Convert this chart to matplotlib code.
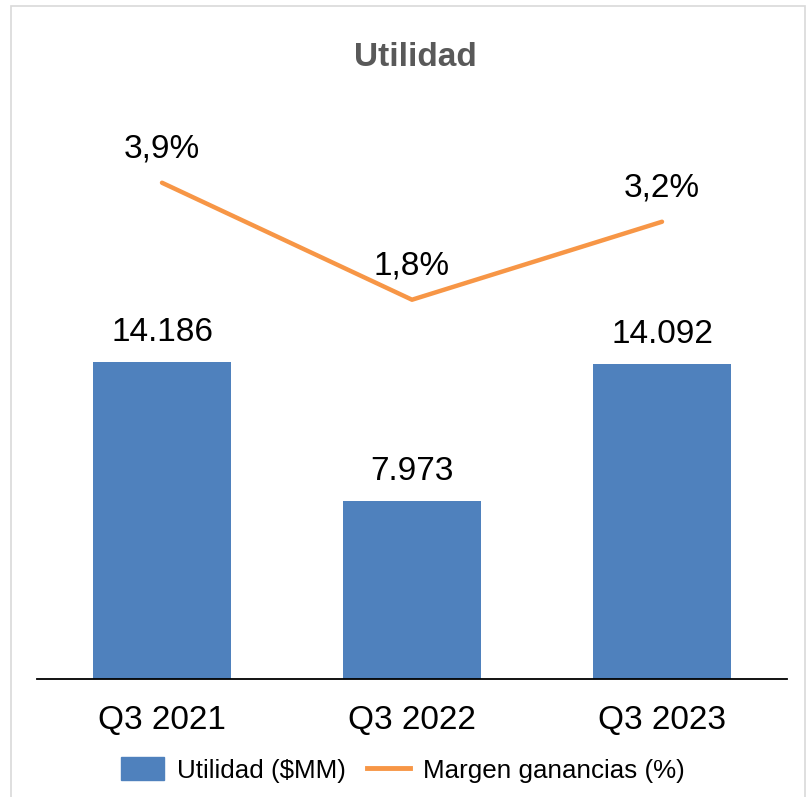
import matplotlib
matplotlib.use("Agg")
import matplotlib.pyplot as plt
from matplotlib.patches import Rectangle, Patch
from matplotlib.lines import Line2D

categories = ["Q3 2021", "Q3 2022", "Q3 2023"]
utilidad = [14186, 7973, 14092]
utilidad_labels = ["14.186", "7.973", "14.092"]
margen = [3.9, 1.8, 3.2]
margen_labels = ["3,9%", "1,8%", "3,2%"]

BLUE = "#4F81BD"
ORANGE = "#F79646"
FONT = "Liberation Sans"

plt.rcParams['font.family'] = [FONT, 'DejaVu Sans']

fig = plt.figure(figsize=(8.08, 7.97), dpi=100)
W, H = 808, 797

# outer border
fig.add_artist(Rectangle((11 / W, 1 - 801 / H), (805 - 11) / W, (801 - 6) / H,
                         transform=fig.transFigure, fill=False,
                         edgecolor="#D9D9D9", linewidth=1.2))

left, right = 37 / W, 787 / W
bottom, top = 1 - 679 / H, 1 - 130 / H
ax = fig.add_axes([left, bottom, right - left, top - bottom])
x = list(range(len(categories)))
ax.bar(x, utilidad, width=0.552, color=BLUE, zorder=2)
ax.set_xlim(-0.5, 2.5)
ax.set_ylim(0, 24575)
for s in ["top", "left", "right"]:
    ax.spines[s].set_visible(False)
ax.spines["bottom"].set_color("black")
ax.spines["bottom"].set_linewidth(1.3)
ax.set_yticks([])
ax.set_xticks(x)
ax.set_xticklabels(categories, fontsize=24)
ax.tick_params(axis="x", length=0, pad=19)
for xi, v, lab in zip(x, utilidad, utilidad_labels):
    ax.annotate(lab, (xi, v), xytext=(0, 10), textcoords="offset points",
                ha="center", va="bottom", fontsize=24)

ax2 = ax.twinx()
ax2.plot(x, margen, color=ORANGE, linewidth=3.2, solid_capstyle="round", zorder=3)
ax2.set_ylim(-5.009, 4.847)
ax2.set_axis_off()
for xi, v, lab in zip(x, margen, margen_labels):
    ax2.annotate(lab, (xi, v), xytext=(0, 13), textcoords="offset points",
                 ha="center", va="bottom", fontsize=24)

fig.text(415 / W, 1 - 57 / H, "Utilidad", ha="center", va="center",
         fontsize=24, fontweight="bold", color="#595959")

handles = [Patch(facecolor=BLUE, edgecolor=BLUE),
           Line2D([0], [0], color=ORANGE, linewidth=3.5)]
fig.legend(handles, ["Utilidad ($MM)", "Margen ganancias (%)"],
           loc="center", bbox_to_anchor=(403 / W, 1 - 770 / H), ncol=2,
           frameon=False, fontsize=18.7, handlelength=1.65, handleheight=1.0,
           handletextpad=0.5, columnspacing=0.8)

fig.savefig("out.png", dpi=100)
